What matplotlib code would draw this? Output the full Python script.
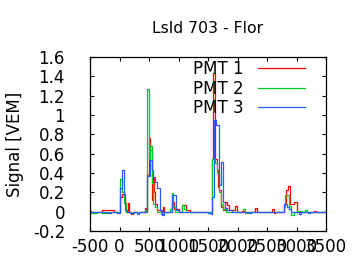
import matplotlib
matplotlib.use("Agg")
import matplotlib.pyplot as plt
from matplotlib.ticker import FuncFormatter

plt.rcParams["axes.unicode_minus"] = False

# step traces: time where each step starts [ns] and the signal [VEM]
pmt1_t = [-500, -480, -290, -100, 15, 45, 90, 115, 140, 160, 190, 230, 430, 455, 470, 495,
          520, 545, 560, 580, 610, 640, 700, 740, 760, 890, 920, 1000, 1065, 1120, 1200,
          1575, 1592, 1620, 1650, 1665, 1690, 1720, 1760, 1790, 1820, 1850, 1955, 1985,
          2080, 2110, 2300, 2330, 2580, 2620, 2640, 2790, 2820, 2860, 2890, 2960, 3000,
          3300, 3330, 3500]
pmt1_v = [0.01, 0.0, 0.015, 0.0, 0.15, 0.18, 0.09, 0.0, 0.085, 0.0, -0.025, 0.0, 0.04, 0.0,
          0.38, 0.76, 0.64, 0.12, 0.36, 0.2, 0.08, 0.02, 0.0, 0.05, 0.0, 0.1, 0.03, 0.0,
          0.07, 0.02, 0.0, 0.55, 1.43, 0.55, 0.43, 0.26, 0.22, 0.05, 0.02, 0.1, 0.07, 0.02,
          0.06, 0.0, 0.01, 0.0, 0.04, 0.0, 0.03, -0.01, 0.0, 0.08, 0.22, 0.27, 0.08, 0.1,
          0.0, 0.01, 0.0, 0.0]

pmt2_t = [-500, -460, -380, -300, -200, 10, 40, 70, 110, 190, 250, 440, 466, 495, 525, 550,
          575, 610, 640, 700, 760, 860, 885, 915, 945, 1065, 1100, 1130, 1570, 1620, 1645,
          1690, 1720, 1760, 1800, 2100, 2125, 2180, 2790, 2810, 2880, 2910, 2950, 3000,
          3100, 3150, 3180, 3500]
pmt2_v = [0.0, -0.01, 0.0, -0.01, 0.0, 0.34, 0.2, 0.09, 0.0, -0.01, 0.0, 0.02, 1.27, 0.55,
          0.68, 0.3, 0.08, 0.05, 0.0, -0.02, 0.0, 0.03, 0.19, 0.05, 0.0, 0.07, 0.03, 0.0,
          0.55, 0.5, 0.4, 0.2, 0.08, 0.03, 0.0, 0.03, -0.01, 0.0, 0.05, 0.17, 0.06, -0.03,
          0.0, 0.01, 0.0, 0.02, 0.0, 0.0]

pmt3_t = [-500, -480, -200, -150, -50, 10, 42, 72, 100, 130, 170, 250, 300, 330, 466, 520,
          545, 575, 600, 630, 690, 720, 760, 895, 950, 1000, 1500, 1550, 1573, 1600, 1640,
          1690, 1725, 1750, 1780, 1820, 1900, 2200, 2230, 2790, 2840, 2880, 2910, 3050,
          3080, 3200, 3230, 3500]
pmt3_v = [-0.015, 0.0, -0.01, 0.0, -0.01, 0.24, 0.43, 0.18, 0.02, 0.0, -0.01, 0.0, -0.02,
          0.0, 0.37, 0.53, 0.43, 0.36, 0.31, 0.24, 0.02, -0.03, 0.0, 0.17, 0.02, 0.0,
          -0.01, -0.02, 0.15, 0.95, 0.9, 0.28, 0.51, 0.1, 0.04, 0.02, 0.0, -0.015, 0.0,
          0.08, 0.05, 0.03, 0.0, -0.02, 0.0, -0.015, 0.0, 0.0]

x_ticks = [-500, 0, 500, 1000, 1500, 2000, 2500, 3000, 3500]
y_ticks = [-0.2, 0, 0.2, 0.4, 0.6, 0.8, 1, 1.2, 1.4, 1.6]

fig = plt.figure(figsize=(3.6, 2.7), dpi=100)
ax = fig.add_axes([0.25, 0.1444, 0.6556, 0.6445])

ax.step(pmt1_t, pmt1_v, where="post", color="#ff0000", lw=0.9, label="PMT 1")
ax.step(pmt2_t, pmt2_v, where="post", color="#00cc22", lw=0.9, label="PMT 2")
ax.step(pmt3_t, pmt3_v, where="post", color="#2a5cff", lw=0.9, label="PMT 3")

ax.set_xlim(-500, 3500)
ax.set_ylim(-0.2, 1.6)
ax.set_xticks(x_ticks)
ax.set_yticks(y_ticks)
ax.yaxis.set_major_formatter(FuncFormatter(lambda v, p: "%g" % round(v, 2)))
ax.tick_params(direction="in", length=3, width=0.8, top=True, right=True,
               labelsize=12, colors="black")
ax.tick_params(axis="x", pad=5)
ax.tick_params(axis="y", pad=18)
for s in ax.spines.values():
    s.set_linewidth(0.9)

ax.set_ylabel("Signal [VEM]", fontsize=12, labelpad=6)
ax.set_title("LsId 703 - Flor", fontsize=11.3, pad=17)

ax.legend(loc="upper right", bbox_to_anchor=(0.911, 0.983), frameon=False, markerfirst=False,
          fontsize=12, handlelength=2.8, handletextpad=0.9, labelspacing=0.1,
          borderpad=0, borderaxespad=0)

fig.savefig("out.png", dpi=100)
